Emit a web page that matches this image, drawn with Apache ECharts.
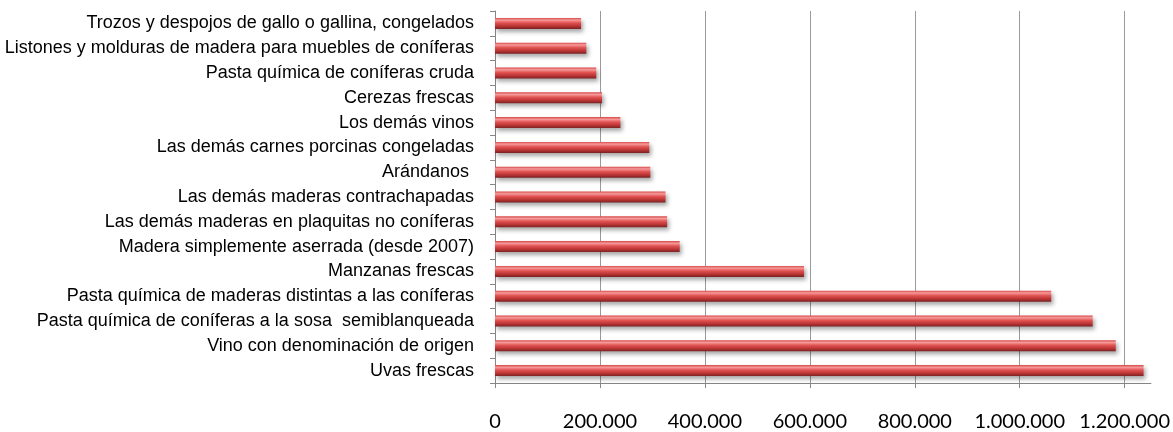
<!DOCTYPE html>
<html>
<head>
<meta charset="utf-8">
<script src="https://cdn.jsdelivr.net/npm/echarts@6/dist/echarts.min.js"></script>
<style>
html,body{margin:0;padding:0;background:#fff;}
#chart{width:1173px;height:432px;}
</style>
</head>
<body>
<div id="chart"></div>
<script>
const categories = [
  "Trozos y despojos de gallo o gallina, congelados",
  "Listones y molduras de madera para muebles de coníferas",
  "Pasta química de coníferas cruda",
  "Cerezas frescas",
  "Los demás vinos",
  "Las demás carnes porcinas congeladas",
  "Arándanos ",
  "Las demás maderas contrachapadas",
  "Las demás maderas en plaquitas no coníferas",
  "Madera simplemente aserrada (desde 2007)",
  "Manzanas frescas",
  "Pasta química de maderas distintas a las coníferas",
  "Pasta química de coníferas a la sosa  semiblanqueada",
  "Vino con denominación de origen",
  "Uvas frescas"
];
const values = [164000, 174000, 193000, 204000, 239000, 294000, 296000, 325000, 328000, 352000, 589000, 1060000, 1139000, 1183000, 1236000];
const xTicks = { min: 0, max: 1250000, interval: 200000 };

function fmt(v) {
  return String(Math.round(v)).replace(/\B(?=(\d{3})+(?!\d))/g, '.');
}

const chart = echarts.init(document.getElementById('chart'));
chart.setOption({
  animation: false,
  backgroundColor: '#ffffff',
  grid: { left: 495, right: 21, top: 11, bottom: 48, containLabel: false },
  xAxis: {
    type: 'value',
    min: xTicks.min, max: xTicks.max, interval: xTicks.interval,
    axisLine: { show: true, lineStyle: { color: '#868686', width: 1 } },
    axisTick: { show: true, length: 5, lineStyle: { color: '#868686' } },
    axisLabel: {
      show: true, showMaxLabel: false, margin: 29,
      fontFamily: 'Lato', fontSize: 20, color: '#000',
      formatter: function (v) { return v % 200000 === 0 ? fmt(v) : ''; }
    },
    splitLine: { show: true, showMaxLine: false, lineStyle: { color: '#9a9a9a', width: 1 } }
  },
  yAxis: {
    type: 'category', inverse: true, data: categories,
    axisLine: { show: true, lineStyle: { color: '#868686', width: 1 } },
    axisTick: { show: true, length: 5, alignWithLabel: false, lineStyle: { color: '#868686' } },
    axisLabel: { margin: 21, fontFamily: 'Liberation Sans', fontSize: 18, color: '#000' },
    splitLine: { show: false }
  },
  series: [{
    type: 'bar',
    data: values,
    barWidth: 11,
    itemStyle: {
      color: new echarts.graphic.LinearGradient(0, 0, 0, 1, [
        { offset: 0, color: '#d94848' },
        { offset: 0.2, color: '#f59a9a' },
        { offset: 0.45, color: '#e25252' },
        { offset: 0.75, color: '#b93434' },
        { offset: 1, color: '#7a2222' }
      ]),
      shadowColor: 'rgba(0,0,0,0.35)',
      shadowBlur: 4,
      shadowOffsetX: 2,
      shadowOffsetY: 3
    }
  }]
});
</script>
</body>
</html>
